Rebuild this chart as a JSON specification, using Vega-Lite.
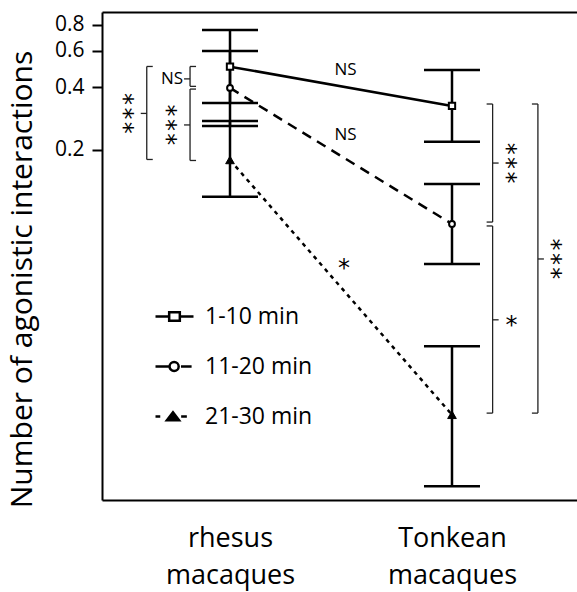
{
  "$schema": "https://vega.github.io/schema/vega-lite/v6.json",
  "width": 475,
  "height": 488,
  "autosize": {"type": "none"},
  "padding": {"left": 102, "top": 12, "right": 0, "bottom": 92},
  "config": {
    "view": {"stroke": null},
    "font": "Open Sans",
    "text": {"font": "Open Sans"},
    "axis": {"labelFont": "Open Sans", "titleFont": "Open Sans", "grid": false},
    "legend": {"labelFont": "Open Sans"}
  },
  "datasets": {
    "series": [
      {"x": 1, "group": "rhesus macaques", "time": "1-10 min", "mean": 0.504, "lo": 0.337, "hi": 0.757},
      {"x": 1, "group": "rhesus macaques", "time": "11-20 min", "mean": 0.398, "lo": 0.261, "hi": 0.6},
      {"x": 1, "group": "rhesus macaques", "time": "21-30 min", "mean": 0.179, "lo": 0.119, "hi": 0.276},
      {"x": 2, "group": "Tonkean macaques", "time": "1-10 min", "mean": 0.326, "lo": 0.219, "hi": 0.486},
      {"x": 2, "group": "Tonkean macaques", "time": "11-20 min", "mean": 0.088, "lo": 0.0565, "hi": 0.137},
      {"x": 2, "group": "Tonkean macaques", "time": "21-30 min", "mean": 0.0106, "lo": 0.0048, "hi": 0.0227}
    ],
    "brackets": [
      {"side": "left", "pos": 0.625, "lo": 0.18, "hi": 0.505, "mid": 0.3, "label": "*\u200a*\u200a*"},
      {"side": "left", "pos": 0.82, "lo": 0.405, "hi": 0.505, "mid": 0.44, "label": "NS"},
      {"side": "left", "pos": 0.82, "lo": 0.178, "hi": 0.393, "mid": 0.264, "label": "*\u200a*\u200a*"},
      {"side": "right", "pos": 2.183, "lo": 0.0899, "hi": 0.333, "mid": 0.173, "label": "*\u200a*\u200a*"},
      {"side": "right", "pos": 2.183, "lo": 0.0108, "hi": 0.0861, "mid": 0.0304, "label": "*"},
      {"side": "right", "pos": 2.387, "lo": 0.0108, "hi": 0.333, "mid": 0.0597, "label": "*\u200a*\u200a*"}
    ],
    "notes": [
      {"x": 1.52, "y": 0.485, "label": "NS"},
      {"x": 1.52, "y": 0.236, "label": "NS"},
      {"x": 1.513, "y": 0.0571, "label": "*"}
    ]
  },
  "resolve": {"axis": {"x": "independent"}},
  "layer": [
    {
      "data": {"name": "series"},
      "transform": [{"filter": "datum.time == '1-10 min'"}],
      "mark": {"type": "line", "color": "black", "strokeWidth": 2.5},
      "encoding": {
        "x": {"field": "x", "type": "quantitative", "scale": {"domain": [0.4234, 2.5631], "nice": false, "zero": false},
          "axis": {"orient": "bottom", "values": [1, 2], "labelExpr": "datum.value == 1 ? ['rhesus', 'macaques'] : ['Tonkean', 'macaques']",
            "ticks": false, "tickSize": 0, "labelPadding": 25, "labelFontSize": 27, "labelLineHeight": 37, "labelBaseline": "top",
            "labelColor": "black", "domainColor": "black", "domainWidth": 2, "title": null, "labelFlush": false}},
        "y": {"field": "mean", "type": "quantitative", "scale": {"type": "log", "domain": [0.00412, 0.924], "nice": false},
          "axis": {"values": [0.2, 0.4, 0.6, 0.8], "format": ".1f", "title": "Number of agonistic interactions",
            "domainColor": "black", "domainWidth": 2, "tickColor": "black", "tickWidth": 2, "tickSize": 10,
            "labelFontSize": 21, "labelColor": "black", "labelPadding": 8, "titleFontSize": 30, "titleFontWeight": "normal",
            "titleColor": "black", "titleX": -80, "titleY": 267, "titleBaseline": "middle", "titleAlign": "center"}}
      }
    },
    {
      "data": {"name": "series"},
      "transform": [{"filter": "datum.time == '11-20 min'"}],
      "mark": {"type": "line", "color": "black", "strokeWidth": 2.5, "strokeDash": [10, 7]},
      "encoding": {
        "x": {"field": "x", "type": "quantitative", "scale": {"domain": [0.4234, 2.5631], "nice": false, "zero": false}, "axis": null},
        "y": {"field": "mean", "type": "quantitative", "scale": {"type": "log", "domain": [0.00412, 0.924], "nice": false}}
      }
    },
    {
      "data": {"name": "series"},
      "transform": [{"filter": "datum.time == '21-30 min'"}],
      "mark": {"type": "line", "color": "black", "strokeWidth": 2.5, "strokeDash": [4, 4.5]},
      "encoding": {
        "x": {"field": "x", "type": "quantitative", "scale": {"domain": [0.4234, 2.5631], "nice": false, "zero": false}, "axis": null},
        "y": {"field": "mean", "type": "quantitative", "scale": {"type": "log", "domain": [0.00412, 0.924], "nice": false}}
      }
    },
    {
      "data": {"name": "series"},
      "mark": {"type": "rule", "color": "black", "strokeWidth": 2.5},
      "encoding": {
        "x": {"field": "x", "type": "quantitative", "scale": {"domain": [0.4234, 2.5631], "nice": false, "zero": false},
          "axis": {"orient": "top", "labels": false, "ticks": false, "domain": true, "domainColor": "black", "domainWidth": 2, "title": null}},
        "y": {"field": "lo", "type": "quantitative", "scale": {"type": "log", "domain": [0.00412, 0.924], "nice": false}},
        "y2": {"field": "hi"}
      }
    },
    {
      "data": {"name": "series"},
      "transform": [{"fold": ["lo", "hi"], "as": ["end", "val"]}],
      "mark": {"type": "tick", "orient": "horizontal", "size": 56, "thickness": 2.5, "color": "black", "opacity": 1},
      "encoding": {
        "x": {"field": "x", "type": "quantitative", "scale": {"domain": [0.4234, 2.5631], "nice": false, "zero": false}, "axis": null},
        "y": {"field": "val", "type": "quantitative", "scale": {"type": "log", "domain": [0.00412, 0.924], "nice": false}}
      }
    },
    {
      "data": {"name": "series"},
      "mark": {"type": "point", "filled": true, "opacity": 0, "strokeWidth": 2.5},
      "encoding": {
        "x": {"field": "x", "type": "quantitative", "scale": {"domain": [0.4234, 2.5631], "nice": false, "zero": false}, "axis": null},
        "y": {"field": "mean", "type": "quantitative", "scale": {"type": "log", "domain": [0.00412, 0.924], "nice": false}},
        "shape": {"field": "time", "type": "nominal",
          "scale": {"domain": ["1-10 min", "11-20 min", "21-30 min"],
            "range": ["M-1,0H-0.28M0.28,0H1M-0.28,-0.22H0.28V0.22H-0.28Z",
                      "M-1,0H-0.26M0.34,0H0.9M-0.26,0A0.24,0.24 0 1,1 0.22,0A0.24,0.24 0 1,1 -0.26,0Z",
                      "M-1,0H-0.75M0.35,0H0.65M-0.4,0.2L-0.08,-0.22L0.24,0.2Z"]},
          "legend": {"orient": "none", "legendX": 52, "legendY": 284, "title": null, "symbolSize": 1444,
            "symbolStrokeWidth": 2.5, "symbolStrokeColor": "black", "symbolOpacity": 1, "labelFontSize": 23,
            "labelFont": "Open Sans", "labelColor": "black", "labelOffset": 10, "rowPadding": 17, "padding": 0}},
        "fill": {"field": "time", "type": "nominal",
          "scale": {"domain": ["1-10 min", "11-20 min", "21-30 min"], "range": ["white", "white", "black"]}},
        "stroke": {"field": "time", "type": "nominal",
          "scale": {"domain": ["1-10 min", "11-20 min", "21-30 min"], "range": ["black", "black", "black"]}}
      }
    },
    {
      "data": {"name": "series"},
      "transform": [{"filter": "datum.time == '1-10 min'"}],
      "mark": {"type": "point", "shape": "square", "size": 40, "filled": true, "fill": "white", "stroke": "black", "strokeWidth": 2, "opacity": 1},
      "encoding": {
        "x": {"field": "x", "type": "quantitative", "scale": {"domain": [0.4234, 2.5631], "nice": false, "zero": false}, "axis": null},
        "y": {"field": "mean", "type": "quantitative", "scale": {"type": "log", "domain": [0.00412, 0.924], "nice": false}}
      }
    },
    {
      "data": {"name": "series"},
      "transform": [{"filter": "datum.time == '11-20 min'"}],
      "mark": {"type": "point", "shape": "circle", "size": 34, "filled": true, "fill": "white", "stroke": "black", "strokeWidth": 2, "opacity": 1},
      "encoding": {
        "x": {"field": "x", "type": "quantitative", "scale": {"domain": [0.4234, 2.5631], "nice": false, "zero": false}, "axis": null},
        "y": {"field": "mean", "type": "quantitative", "scale": {"type": "log", "domain": [0.00412, 0.924], "nice": false}}
      }
    },
    {
      "data": {"name": "series"},
      "transform": [{"filter": "datum.time == '21-30 min'"}],
      "mark": {"type": "point", "shape": "triangle-up", "size": 75, "filled": true, "fill": "black", "stroke": "black", "strokeWidth": 1, "opacity": 1},
      "encoding": {
        "x": {"field": "x", "type": "quantitative", "scale": {"domain": [0.4234, 2.5631], "nice": false, "zero": false}, "axis": null},
        "y": {"field": "mean", "type": "quantitative", "scale": {"type": "log", "domain": [0.00412, 0.924], "nice": false}}
      }
    },
    {
      "data": {"name": "brackets"},
      "mark": {"type": "rule", "color": "#222", "strokeWidth": 1.3},
      "encoding": {
        "x": {"field": "pos", "type": "quantitative", "scale": {"domain": [0.4234, 2.5631], "nice": false, "zero": false}, "axis": null},
        "y": {"field": "lo", "type": "quantitative", "scale": {"type": "log", "domain": [0.00412, 0.924], "nice": false}},
        "y2": {"field": "hi"}
      }
    },
    {
      "data": {"name": "brackets"},
      "transform": [{"filter": "datum.side == 'left'"}, {"fold": ["lo", "hi"], "as": ["end", "val"]}],
      "mark": {"type": "tick", "orient": "horizontal", "size": 6, "thickness": 1.3, "color": "#222", "opacity": 1, "xOffset": 3},
      "encoding": {
        "x": {"field": "pos", "type": "quantitative", "scale": {"domain": [0.4234, 2.5631], "nice": false, "zero": false}, "axis": null},
        "y": {"field": "val", "type": "quantitative", "scale": {"type": "log", "domain": [0.00412, 0.924], "nice": false}}
      }
    },
    {
      "data": {"name": "brackets"},
      "transform": [{"filter": "datum.side == 'right'"}, {"fold": ["lo", "hi"], "as": ["end", "val"]}],
      "mark": {"type": "tick", "orient": "horizontal", "size": 6, "thickness": 1.3, "color": "#222", "opacity": 1, "xOffset": -3},
      "encoding": {
        "x": {"field": "pos", "type": "quantitative", "scale": {"domain": [0.4234, 2.5631], "nice": false, "zero": false}, "axis": null},
        "y": {"field": "val", "type": "quantitative", "scale": {"type": "log", "domain": [0.00412, 0.924], "nice": false}}
      }
    },
    {
      "data": {"name": "brackets"},
      "transform": [{"filter": "datum.side == 'left'"}],
      "mark": {"type": "tick", "orient": "horizontal", "size": 6, "thickness": 1.3, "color": "#222", "opacity": 1, "xOffset": -3},
      "encoding": {
        "x": {"field": "pos", "type": "quantitative", "scale": {"domain": [0.4234, 2.5631], "nice": false, "zero": false}, "axis": null},
        "y": {"field": "mid", "type": "quantitative", "scale": {"type": "log", "domain": [0.00412, 0.924], "nice": false}}
      }
    },
    {
      "data": {"name": "brackets"},
      "transform": [{"filter": "datum.side == 'right'"}],
      "mark": {"type": "tick", "orient": "horizontal", "size": 6, "thickness": 1.3, "color": "#222", "opacity": 1, "xOffset": 3},
      "encoding": {
        "x": {"field": "pos", "type": "quantitative", "scale": {"domain": [0.4234, 2.5631], "nice": false, "zero": false}, "axis": null},
        "y": {"field": "mid", "type": "quantitative", "scale": {"type": "log", "domain": [0.00412, 0.924], "nice": false}}
      }
    },
    {
      "data": {"name": "brackets"},
      "transform": [{"filter": "datum.side == 'left' && datum.label != 'NS' && datum.label != '*'"}],
      "mark": {"type": "text", "align": "center", "baseline": "middle", "angle": 90, "xOffset": -24, "font": "DejaVu Sans", "fontSize": 24, "color": "black"},
      "encoding": {
        "x": {"field": "pos", "type": "quantitative", "scale": {"domain": [0.4234, 2.5631], "nice": false, "zero": false}, "axis": null},
        "y": {"field": "mid", "type": "quantitative", "scale": {"type": "log", "domain": [0.00412, 0.924], "nice": false}},
        "text": {"field": "label"}
      }
    },
    {
      "data": {"name": "brackets"},
      "transform": [{"filter": "datum.side == 'right' && datum.label != 'NS' && datum.label != '*'"}],
      "mark": {"type": "text", "align": "center", "baseline": "middle", "angle": 90, "xOffset": 13, "font": "DejaVu Sans", "fontSize": 24, "color": "black"},
      "encoding": {
        "x": {"field": "pos", "type": "quantitative", "scale": {"domain": [0.4234, 2.5631], "nice": false, "zero": false}, "axis": null},
        "y": {"field": "mid", "type": "quantitative", "scale": {"type": "log", "domain": [0.00412, 0.924], "nice": false}},
        "text": {"field": "label"}
      }
    },
    {
      "data": {"name": "brackets"},
      "transform": [{"filter": "datum.label == '*'"}],
      "mark": {"type": "text", "align": "center", "baseline": "middle", "xOffset": 19, "dy": 6, "font": "DejaVu Sans", "fontSize": 24, "color": "black"},
      "encoding": {
        "x": {"field": "pos", "type": "quantitative", "scale": {"domain": [0.4234, 2.5631], "nice": false, "zero": false}, "axis": null},
        "y": {"field": "mid", "type": "quantitative", "scale": {"type": "log", "domain": [0.00412, 0.924], "nice": false}},
        "text": {"field": "label"}
      }
    },
    {
      "data": {"name": "brackets"},
      "transform": [{"filter": "datum.label == 'NS'"}],
      "mark": {"type": "text", "align": "right", "baseline": "middle", "dx": -7, "fontSize": 17, "color": "black"},
      "encoding": {
        "x": {"field": "pos", "type": "quantitative", "scale": {"domain": [0.4234, 2.5631], "nice": false, "zero": false}, "axis": null},
        "y": {"field": "mid", "type": "quantitative", "scale": {"type": "log", "domain": [0.00412, 0.924], "nice": false}},
        "text": {"field": "label"}
      }
    },
    {
      "data": {"name": "notes"},
      "transform": [{"filter": "datum.label == 'NS'"}],
      "mark": {"type": "text", "align": "center", "baseline": "middle", "fontSize": 17, "color": "black"},
      "encoding": {
        "x": {"field": "x", "type": "quantitative", "scale": {"domain": [0.4234, 2.5631], "nice": false, "zero": false}, "axis": null},
        "y": {"field": "y", "type": "quantitative", "scale": {"type": "log", "domain": [0.00412, 0.924], "nice": false}},
        "text": {"field": "label"}
      }
    },
    {
      "data": {"name": "notes"},
      "transform": [{"filter": "datum.label != 'NS'"}],
      "mark": {"type": "text", "align": "center", "baseline": "middle", "dy": 6, "font": "DejaVu Sans", "fontSize": 24, "color": "black"},
      "encoding": {
        "x": {"field": "x", "type": "quantitative", "scale": {"domain": [0.4234, 2.5631], "nice": false, "zero": false}, "axis": null},
        "y": {"field": "y", "type": "quantitative", "scale": {"type": "log", "domain": [0.00412, 0.924], "nice": false}},
        "text": {"field": "label"}
      }
    }
  ]
}
